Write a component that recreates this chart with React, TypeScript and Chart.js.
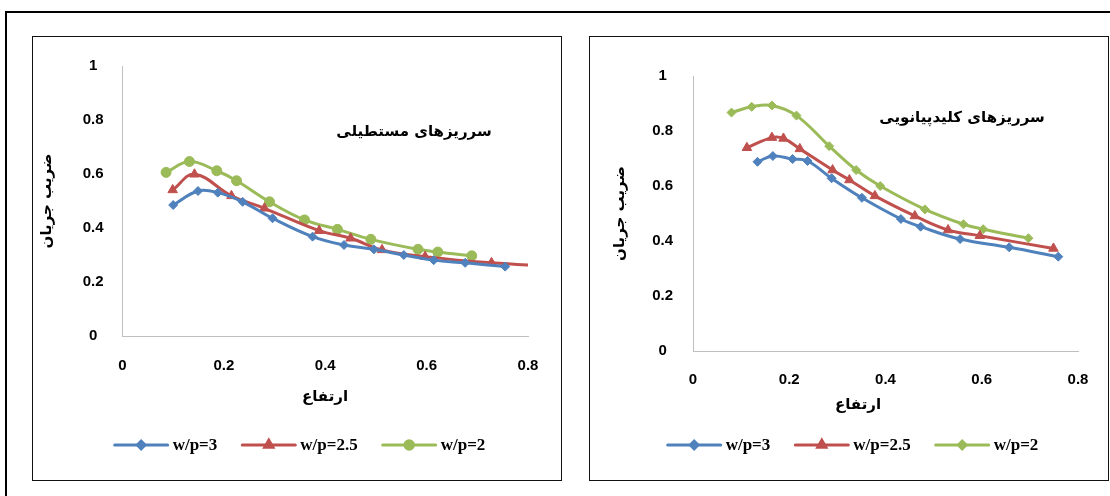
import React, { useEffect, useRef } from "react";
import { Chart, registerables } from "chart.js";
import { drawPoint } from "chart.js/helpers";

Chart.register(...registerables);

// ---------- data ----------
const seriesNames = ["w/p=3", "w/p=2.5", "w/p=2"];
const seriesColors = ["#4F81BD", "#C0504D", "#9BBB59"];

const xTickValues = [0, 0.2, 0.4, 0.6, 0.8];
const yTickValues = [0, 0.2, 0.4, 0.6, 0.8, 1];

// left panel: rectangular weirs
const rectHeight3 = [0.1, 0.149, 0.188, 0.237, 0.296, 0.375, 0.437, 0.496, 0.555, 0.614, 0.676, 0.755];
const rectCoef3 = [0.485, 0.537, 0.531, 0.497, 0.436, 0.368, 0.337, 0.321, 0.3, 0.281, 0.271, 0.257];
const rectHeight25 = [0.099, 0.142, 0.215, 0.28, 0.388, 0.45, 0.512, 0.597, 0.728, 0.84];
const rectCoef25 = [0.541, 0.599, 0.519, 0.473, 0.39, 0.362, 0.319, 0.294, 0.271, 0.259];
const rectHeight2 = [0.086, 0.132, 0.186, 0.225, 0.29, 0.359, 0.424, 0.49, 0.583, 0.622, 0.689];
const rectCoef2 = [0.606, 0.646, 0.612, 0.575, 0.497, 0.43, 0.395, 0.358, 0.321, 0.311, 0.297];

// right panel: piano key weirs
const pkHeight3 = [0.134, 0.166, 0.207, 0.238, 0.288, 0.351, 0.432, 0.473, 0.555, 0.657, 0.759];
const pkCoef3 = [0.688, 0.709, 0.698, 0.691, 0.628, 0.557, 0.48, 0.452, 0.407, 0.377, 0.343];
const pkHeight25 = [0.112, 0.164, 0.188, 0.222, 0.29, 0.325, 0.378, 0.461, 0.53, 0.596, 0.749];
const pkCoef25 = [0.739, 0.776, 0.773, 0.735, 0.658, 0.622, 0.564, 0.491, 0.44, 0.419, 0.373];
const pkHeight2 = [0.08, 0.122, 0.164, 0.215, 0.283, 0.339, 0.389, 0.482, 0.562, 0.603, 0.697];
const pkCoef2 = [0.867, 0.888, 0.893, 0.856, 0.745, 0.658, 0.6, 0.515, 0.461, 0.443, 0.41];

const leftTitle = "سرریزهای مستطیلی";
const rightTitle = "سرریزهای کلیدپیانویی";
const xAxisTitle = "ارتفاع";
const yAxisTitle = "ضریب جریان";

// ---------- helpers ----------
const PERSIAN_FONT = '"DejaVu Sans", sans-serif';
const NUM_FONT = '"Liberation Sans", Arial, sans-serif';
const LEGEND_FONT = '"Liberation Serif", "Times New Roman", serif';

function toPoints(xs: number[], ys: number[]) {
  return xs.map((x, i) => ({ x, y: ys[i] }));
}

type PanelSpec = {
  width: number;
  height: number;
  yAxisWidth: number;
  xAxisHeight: number;
  padTop: number;
  padRight: number;
  yTickPad: number;
  xTickPad: number;
  yTitlePad: number;
  series: { xs: number[]; ys: number[]; style: string; radius: number }[];
  title: string;
  titlePos: [number, number];
  xTitlePos: [number, number];
  legendY: number;
  legendCenter: number;
};

const overlayPlugin = {
  id: "overlay",
  afterDraw(chart: any, _args: any, opts: any) {
    const ctx: CanvasRenderingContext2D = chart.ctx;
    ctx.save();
    ctx.fillStyle = "#000";
    ctx.textAlign = "center";
    ctx.textBaseline = "middle";
    // annotation title
    ctx.font = `bold 15px ${PERSIAN_FONT}`;
    ctx.fillText(opts.title, opts.titlePos[0], opts.titlePos[1]);
    // x axis title
    ctx.font = `bold 15px ${PERSIAN_FONT}`;
    ctx.fillText(opts.xTitle, opts.xTitlePos[0], opts.xTitlePos[1]);
    // legend
    ctx.font = `bold 17px ${LEGEND_FONT}`;
    const sampleW = 53;
    const gapText = 5;
    const gapItem = 25;
    const datasets = chart.data.datasets;
    const widths = datasets.map((d: any) => ctx.measureText(d.label).width);
    let total = 0;
    widths.forEach((w: number, i: number) => {
      total += sampleW + gapText + w + (i < widths.length - 1 ? gapItem : 0);
    });
    let x = opts.legendCenter - total / 2;
    const y = opts.legendY;
    datasets.forEach((d: any, i: number) => {
      ctx.strokeStyle = d.borderColor;
      ctx.lineWidth = 3;
      ctx.lineCap = "round";
      ctx.beginPath();
      ctx.moveTo(x, y);
      ctx.lineTo(x + sampleW, y);
      ctx.stroke();
      ctx.fillStyle = d.borderColor;
      drawPoint(
        ctx,
        { pointStyle: d.pointStyle, rotation: 0, radius: d.pointRadius * 0.85, borderWidth: 1 } as any,
        x + sampleW / 2,
        y
      );
      ctx.fillStyle = "#000";
      ctx.textAlign = "left";
      ctx.fillText(d.label, x + sampleW + gapText, y + 1);
      x += sampleW + gapText + widths[i] + gapItem;
    });
    ctx.restore();
  },
};

function buildConfig(p: PanelSpec): any {
  return {
    type: "scatter",
    data: {
      datasets: p.series.map((s, i) => ({
        label: seriesNames[i],
        data: toPoints(s.xs, s.ys),
        showLine: true,
        borderColor: seriesColors[i],
        backgroundColor: seriesColors[i],
        borderWidth: 3,
        tension: 0.4,
        pointStyle: s.style,
        pointRadius: s.radius,
        pointBorderWidth: 1,
        pointBackgroundColor: seriesColors[i],
        pointBorderColor: seriesColors[i],
      })),
    },
    options: {
      responsive: false,
      animation: false,
      events: [],
      layout: { padding: { top: p.padTop, right: p.padRight, left: 0, bottom: 0 } },
      plugins: {
        legend: { display: false },
        tooltip: { enabled: false },
        overlay: {
          title: p.title,
          titlePos: p.titlePos,
          xTitle: xAxisTitle,
          xTitlePos: p.xTitlePos,
          legendY: p.legendY,
          legendCenter: p.legendCenter,
        },
      },
      scales: {
        x: {
          type: "linear",
          min: xTickValues[0],
          max: xTickValues[xTickValues.length - 1],
          afterBuildTicks: (scale: any) => {
            scale.ticks = xTickValues.map((v) => ({ value: v }));
          },
          afterFit: (scale: any) => {
            scale.height = p.xAxisHeight;
          },
          grid: { display: false },
          border: { display: true, color: "#BFBFBF", width: 1 },
          ticks: {
            padding: p.xTickPad,
            color: "#000",
            font: { family: NUM_FONT, weight: "bold", size: 15 },
            callback: (v: any) => String(Number(v)),
          },
        },
        y: {
          type: "linear",
          min: yTickValues[0],
          max: yTickValues[yTickValues.length - 1],
          afterBuildTicks: (scale: any) => {
            scale.ticks = yTickValues.map((v) => ({ value: v }));
          },
          afterFit: (scale: any) => {
            scale.width = p.yAxisWidth;
          },
          grid: { display: false },
          border: { display: true, color: "#BFBFBF", width: 1 },
          ticks: {
            padding: p.yTickPad,
            crossAlign: "center",
            color: "#000",
            font: { family: NUM_FONT, weight: "bold", size: 15 },
            callback: (v: any) => String(Number(v)),
          },
          title: {
            display: true,
            text: yAxisTitle,
            color: "#000",
            padding: { top: p.yTitlePad, bottom: 0 },
            font: { family: PERSIAN_FONT, weight: "bold", size: 15 },
          },
        },
      },
    },
    plugins: [overlayPlugin],
  };
}

const leftSpec: PanelSpec = {
  width: 529,
  height: 443,
  yAxisWidth: 90.5,
  xAxisHeight: 144,
  padTop: 29,
  padRight: 33,
  yTickPad: 11,
  xTickPad: 13,
  yTitlePad: 6,
  series: [
    { xs: rectHeight3, ys: rectCoef3, style: "rectRot", radius: 4.5 },
    { xs: rectHeight25, ys: rectCoef25, style: "triangle", radius: 5.5 },
    { xs: rectHeight2, ys: rectCoef2, style: "circle", radius: 5 },
  ],
  title: leftTitle,
  titlePos: [382, 95],
  xTitlePos: [293, 360],
  legendY: 408,
  legendCenter: 268,
};

const rightSpec: PanelSpec = {
  width: 519,
  height: 443,
  yAxisWidth: 104,
  xAxisHeight: 129,
  padTop: 39,
  padRight: 30,
  yTickPad: 12,
  xTickPad: 12,
  yTitlePad: 22,
  series: [
    { xs: pkHeight3, ys: pkCoef3, style: "rectRot", radius: 4.5 },
    { xs: pkHeight25, ys: pkCoef25, style: "triangle", radius: 5.5 },
    { xs: pkHeight2, ys: pkCoef2, style: "rectRot", radius: 4.5 },
  ],
  title: rightTitle,
  titlePos: [373, 81],
  xTitlePos: [269, 368],
  legendY: 408,
  legendCenter: 264,
};

function Panel({ spec, left, top }: { spec: PanelSpec; left: number; top: number }) {
  const ref = useRef<HTMLCanvasElement | null>(null);
  useEffect(() => {
    if (!ref.current) return;
    const chart = new Chart(ref.current, buildConfig(spec));
    return () => chart.destroy();
  }, [spec]);
  return (
    <>
      <canvas
        ref={ref}
        width={spec.width}
        height={spec.height}
        style={{ position: "absolute", left, top, width: spec.width, height: spec.height }}
      />
      <div
        style={{
          position: "absolute",
          left,
          top: top - 1,
          width: spec.width + 1,
          height: spec.height + 2,
          border: "1.5px solid #111",
          boxSizing: "border-box",
          pointerEvents: "none",
        }}
      />
    </>
  );
}

export default function App() {
  return (
    <div
      style={{
        position: "absolute",
        left: 0,
        top: 0,
        width: 1110,
        height: 496,
        overflow: "hidden",
        background: "#fff",
      }}
    >
      <div
        style={{
          position: "absolute",
          left: 5,
          top: 11,
          width: 1300,
          height: 700,
          border: "2px solid #000",
          boxSizing: "border-box",
        }}
      />
      <Panel spec={leftSpec} left={32} top={37} />
      <Panel spec={rightSpec} left={589} top={37} />
    </div>
  );
}
